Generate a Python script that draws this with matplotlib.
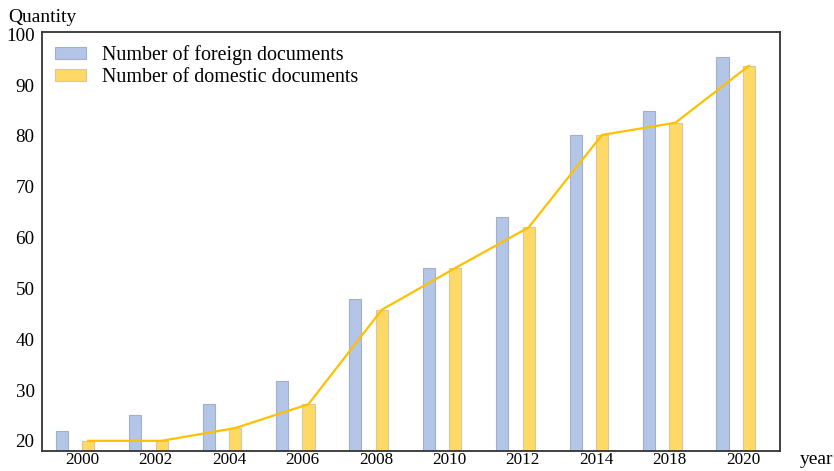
import numpy as np
import matplotlib
matplotlib.use("Agg")
import matplotlib.pyplot as plt

# 數據
years = ["2000", "2002", "2004", "2006", "2008", "2010", "2012", "2014", "2018", "2020"]
foreign = [22, 25, 27.2, 31.8, 48, 54, 64, 80.2, 85, 95.5]
domestic = [20, 20, 22.5, 27.2, 45.8, 54, 62, 80.2, 82.6, 93.8]

plt.rcParams["font.family"] = ["Liberation Serif", "DejaVu Serif"]

fig = plt.figure(figsize=(8.34, 4.71), dpi=100)
ax = fig.add_axes([0.0498, 0.0425, 0.886, 0.889])

x = np.arange(len(years))
off = 0.18
w = 0.165
ax.bar(x - off, foreign, w, color="#b4c6e7", edgecolor="#a3aecb", linewidth=0.8,
       label="Number of foreign documents", zorder=2)
ax.bar(x + off, domestic, w, color="#ffd966", edgecolor="#d8c89a", linewidth=0.8,
       label="Number of domestic documents", zorder=2)
ax.plot(x + off, domestic, color="#ffc000", linewidth=1.6, zorder=3)

ax.set_xlim(-0.456, 9.61)
ax.set_ylim(18, 100.4)
ax.set_xticks(x + 0.1)
ax.set_xticklabels(years, fontsize=12.3)
ax.set_yticks(range(20, 101, 10))
ax.tick_params(axis="y", labelsize=13.7, length=0, pad=5)
ax.tick_params(axis="x", length=0, pad=1)
for s in ax.spines.values():
    s.set_color("#333333")
    s.set_linewidth(1.3)

ax.legend(loc="upper left", bbox_to_anchor=(0.0, 1.0), frameon=False,
          fontsize=14.4, handlelength=1.55, handleheight=0.55, handletextpad=0.8,
          labelspacing=0.15, borderaxespad=0.25)

fig.text(8 / 834, 1 - 18 / 471, "Quantity", fontsize=14, va="center", ha="left")
fig.text(800 / 834, 1 - 460 / 471, "year", fontsize=14, va="center", ha="left")

fig.savefig("out.png", dpi=100)
